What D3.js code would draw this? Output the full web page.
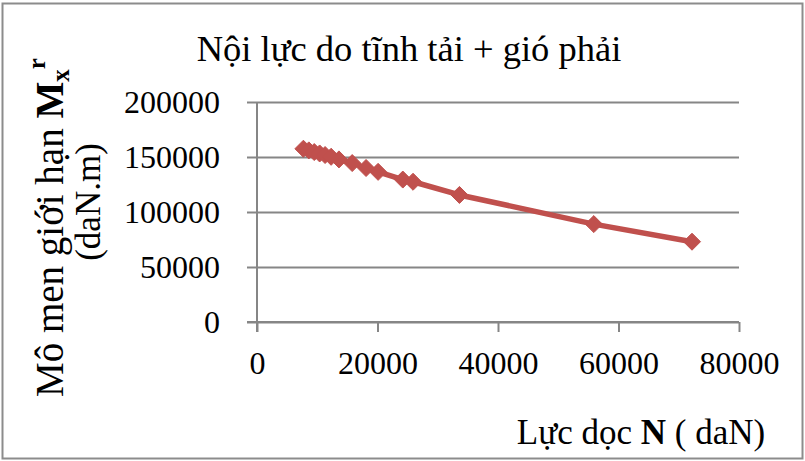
<!DOCTYPE html>
<html>
<head>
<meta charset="utf-8">
<script src="https://cdn.jsdelivr.net/npm/d3@7"></script>
<style>
  html, body { margin: 0; padding: 0; background: #fff; }
  svg { display: block; }
  text { font-family: "Liberation Serif", "Times New Roman", serif; fill: #000; }
</style>
</head>
<body>
<svg id="chart" width="805" height="461"></svg>
<script>
// Axial force N (daN) and limit moment M (daN.m) along the interaction curve
const forceN = [7700, 8600, 9500, 10400, 11300, 12300, 13600, 15800, 18100, 20100, 24200, 25900, 33600, 55900, 72200];
const momentM = [157500, 156000, 154500, 153200, 151800, 150200, 147800, 144500, 140000, 136500, 129500, 127500, 115500, 89000, 73000];
const xTicks = [0, 20000, 40000, 60000, 80000];
const yTicks = [0, 50000, 100000, 150000, 200000];
const titleText = "Nội lực do tĩnh tải + gió phải";

const svg = d3.select("#chart");
const W = 805, H = 461;
const plot = { left: 257, right: 739, top: 102, bottom: 322 };
const gridColor = "#868686";
const seriesColor = "#C0504D";

// outer frame
svg.append("rect")
  .attr("x", 2.5).attr("y", 3.5)
  .attr("width", W - 5).attr("height", H - 6)
  .attr("fill", "#fff")
  .attr("stroke", "#8c8c8c").attr("stroke-width", 2);

const x = d3.scaleLinear().domain([0, 80000]).range([plot.left, plot.right]);
const y = d3.scaleLinear().domain([0, 200000]).range([plot.bottom, plot.top]);

// horizontal gridlines + y axis
const yAxis = d3.axisLeft(y).tickValues(yTicks).tickFormat(d3.format("d"))
  .tickSize(-(plot.right - plot.left)).tickPadding(37);
const gy = svg.append("g").attr("transform", `translate(${plot.left},0)`).call(yAxis);
gy.select(".domain").remove();
gy.selectAll(".tick line").attr("stroke", gridColor).attr("stroke-width", 2).attr("x1", -10);
gy.selectAll(".tick text").attr("font-size", 32).attr("fill", "#000")
  .attr("font-family", "Liberation Serif").attr("dy", "0.34em");

// vertical axis line
svg.append("line")
  .attr("x1", plot.left).attr("x2", plot.left)
  .attr("y1", plot.top).attr("y2", plot.bottom + 10)
  .attr("stroke", gridColor).attr("stroke-width", 2);

// x axis
const xAxis = d3.axisBottom(x).tickValues(xTicks).tickFormat(d3.format("d"))
  .tickSize(10).tickPadding(19);
const gx = svg.append("g").attr("transform", `translate(0,${plot.bottom})`).call(xAxis);
gx.select(".domain").attr("stroke", gridColor).attr("stroke-width", 2)
  .attr("d", `M${plot.left - 10},0H${plot.right}`);
gx.selectAll(".tick line").attr("stroke", gridColor).attr("stroke-width", 2);
gx.selectAll(".tick text").attr("font-size", 32).attr("fill", "#000")
  .attr("font-family", "Liberation Serif");

// series line
const pts = forceN.map((n, i) => [n, momentM[i]]);
svg.append("path")
  .datum(pts)
  .attr("fill", "none")
  .attr("stroke", seriesColor)
  .attr("stroke-width", 5.5)
  .attr("stroke-linejoin", "round")
  .attr("d", d3.line().x(d => x(d[0])).y(d => y(d[1])));

// diamond markers
const diamond = d3.symbol().type(d3.symbolDiamond2).size(185);
svg.append("g").selectAll("path")
  .data(pts).join("path")
  .attr("transform", d => `translate(${x(d[0])},${y(d[1])})`)
  .attr("d", diamond)
  .attr("fill", seriesColor)
  .attr("stroke", seriesColor).attr("stroke-width", 1);

// chart title
svg.append("text")
  .attr("x", 409).attr("y", 61)
  .attr("text-anchor", "middle")
  .attr("font-size", 36.5)
  .text(titleText);

// y axis title (rotated, two lines)
const yt = svg.append("g").attr("transform", "rotate(-90)");
const l1 = yt.append("text").attr("x", -397).attr("y", 63)
  .attr("text-anchor", "start").attr("font-size", 39);
l1.append("tspan").text("Mô men giới hạn ");
l1.append("tspan").attr("font-weight", "bold").text("M");
l1.append("tspan").attr("font-weight", "bold").attr("font-size", 25).attr("dy", 6).text("x");
l1.append("tspan").attr("font-weight", "bold").attr("font-size", 25).attr("dy", -24).text("r");
yt.append("text").attr("x", -202).attr("y", 100)
  .attr("text-anchor", "middle").attr("font-size", 35)
  .text("(daN.m)");

// x axis title
const xt = svg.append("text").attr("x", 641).attr("y", 444)
  .attr("text-anchor", "middle").attr("font-size", 35);
xt.append("tspan").text("Lực dọc ");
xt.append("tspan").attr("font-weight", "bold").text("N");
xt.append("tspan").text(" ( daN)");
</script>
</body>
</html>
